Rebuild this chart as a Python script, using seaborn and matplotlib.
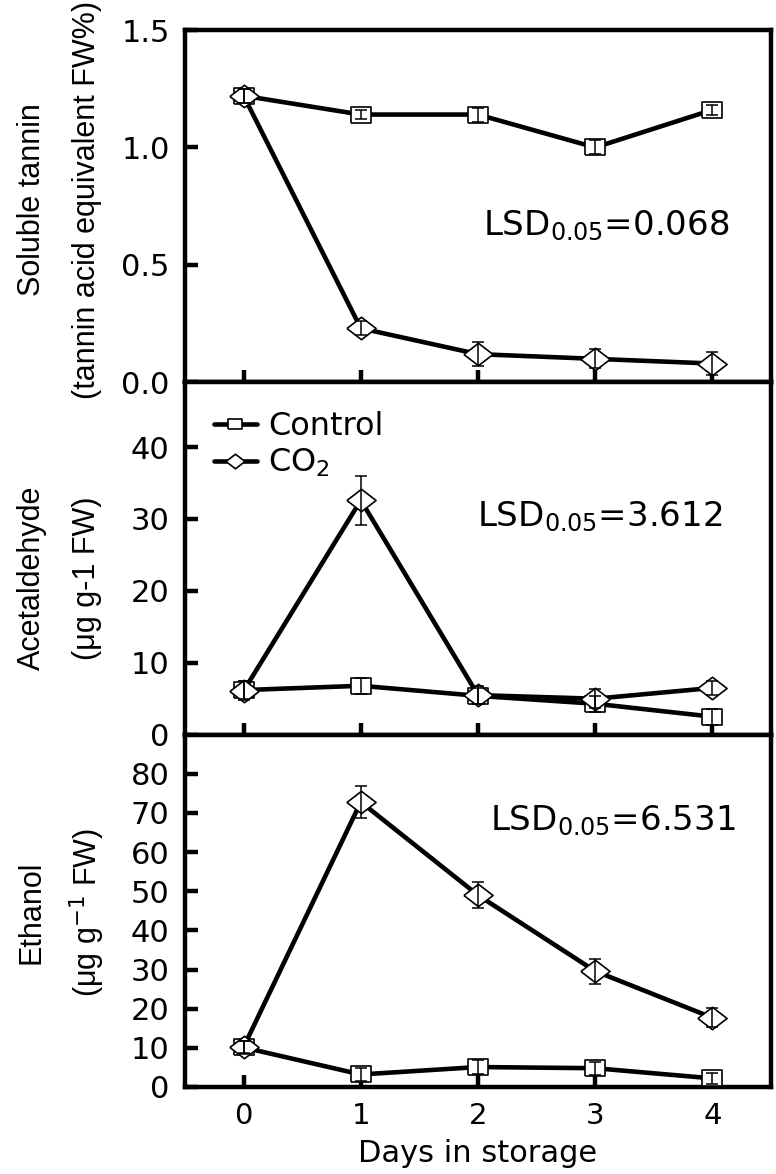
import numpy as np
import pandas as pd
import matplotlib
matplotlib.use("Agg")
import matplotlib.pyplot as plt
import seaborn as sns

# -------------------------------
# Data
# -------------------------------
days = [0, 1, 2, 3, 4]
treatments = ["Control", "CO2"]

tannin_control = [1.22, 1.14, 1.14, 1.00, 1.16]
tannin_control_err = [0.03, 0.02, 0.03, 0.03, 0.02]
tannin_co2 = [1.22, 0.23, 0.12, 0.10, 0.08]
tannin_co2_err = [0.03, 0.03, 0.05, 0.04, 0.05]

acet_control = [6.2, 6.8, 5.4, 4.3, 2.5]
acet_control_err = [1.3, 1.1, 1.1, 1.1, 1.1]
acet_co2 = [6.1, 32.6, 5.5, 5.0, 6.5]
acet_co2_err = [1.3, 3.4, 1.2, 1.3, 1.0]

eth_control = [10.1, 3.2, 5.1, 4.8, 2.2]
eth_control_err = [1.6, 1.6, 1.7, 1.7, 1.4]
eth_co2 = [10.2, 72.8, 49.0, 29.6, 17.7]
eth_co2_err = [1.6, 4.2, 3.3, 3.2, 2.4]

ylabel_top = ["Soluble tannin", "Acetaldehyde", "Ethanol"]
ylabel_bottom = ["(tannin acid equivalent FW%)", "(\u03bcg g-1 FW)",
                 "(\u03bcg g$^{-1}$ FW)"]
lsd_texts = ["LSD$_{0.05}$=0.068", "LSD$_{0.05}$=3.612", "LSD$_{0.05}$=6.531"]
ylims = [(0, 1.5), (0, 49), (0, 90)]
yticks = [[0.0, 0.5, 1.0, 1.5], [0, 10, 20, 30, 40], [0, 10, 20, 30, 40, 50, 60, 70, 80]]
yticklabels = [["0.0", "0.5", "1.0", "1.5"],
               ["0", "10", "20", "30", "40"],
               ["0", "10", "20", "30", "40", "50", "60", "70", "80"]]

panels = [
    (tannin_control, tannin_control_err, tannin_co2, tannin_co2_err),
    (acet_control, acet_control_err, acet_co2, acet_co2_err),
    (eth_control, eth_control_err, eth_co2, eth_co2_err),
]

# -------------------------------
# Style
# -------------------------------
sns.set_style("ticks")
plt.rcParams['font.family'] = ['DejaVu Sans']
plt.rcParams['mathtext.fontset'] = 'dejavusans'
for key in ['text.color', 'axes.labelcolor', 'xtick.color', 'ytick.color',
            'axes.edgecolor']:
    plt.rcParams[key] = 'black'

# wide markers (the source picture is stretched sideways)
square = [(-1.24, -1), (1.24, -1), (1.24, 1), (-1.24, 1), (-1.24, -1)]
diamond = [(-1.3, 0), (0, 1), (1.3, 0), (0, -1), (-1.3, 0)]
markers = {"Control": (square, 15), "CO2": (diamond, 21)}

W, H = 776, 1174
fig, axes = plt.subplots(3, 1, figsize=(W / 100, H / 100), dpi=100, sharex=True)
fig.subplots_adjust(left=185 / W, right=771 / W, top=1 - 30 / H,
                    bottom=1 - 1087 / H, hspace=0)

label_center_y = [200, 578, 912]   # pixel rows of the y-label centres
lsd_pos = [(2.04, 0.625), (1.99, 29.0), (2.1, 65.6)]

for i, ax in enumerate(axes):
    ctrl, ctrl_err, co2, co2_err = panels[i]
    df = pd.DataFrame({
        "day": days * 2,
        "value": ctrl + co2,
        "err": ctrl_err + co2_err,
        "treatment": ["Control"] * 5 + ["CO2"] * 5,
    })
    for t in treatments:
        sub = df[df["treatment"] == t]
        mk, ms = markers[t]
        sns.lineplot(data=sub, x="day", y="value", ax=ax, color="black",
                     linewidth=3.3, marker=mk, markersize=ms,
                     markerfacecolor="white", markeredgecolor="black",
                     markeredgewidth=1.2, label=("CO$_2$" if t == "CO2" else t),
                     legend=False, zorder=3)
        ax.errorbar(sub["day"], sub["value"], yerr=sub["err"], fmt="none",
                    ecolor="black", elinewidth=1.1, capsize=4, capthick=1.1,
                    zorder=4)

    ax.set_xlim(-0.5, 4.5)
    ax.set_ylim(*ylims[i])
    ax.set_yticks(yticks[i])
    ax.set_yticklabels(yticklabels[i])
    ax.set_xticks(days)
    ax.set_xlabel("")
    ax.set_ylabel("")
    for sp in ax.spines.values():
        sp.set_visible(True)
        sp.set_linewidth(3.2)
        sp.set_color("black")
    ax.tick_params(axis="both", direction="in", length=9, width=3.2,
                   labelsize=22, pad=11)
    ax.tick_params(axis="x", labelsize=21)
    yc = 1 - label_center_y[i] / H
    fig.text(32 / W, yc, ylabel_top[i], rotation=90, ha="center", va="center",
             fontsize=22, family="Liberation Sans")
    fig.text(87 / W, yc, ylabel_bottom[i], rotation=90, ha="center",
             va="center", fontsize=22, family="Liberation Sans")
    ax.text(lsd_pos[i][0], lsd_pos[i][1], lsd_texts[i], fontsize=24.5,
            ha="left", va="baseline")

axes[2].set_xticklabels([str(d) for d in days])
axes[2].set_xlabel("Days in storage", fontsize=22, labelpad=6)

leg = axes[1].legend(loc="upper left", frameon=False, fontsize=23,
                     handlelength=1.35, handletextpad=0.35, markerscale=0.65,
                     borderaxespad=0.5, borderpad=0.4, labelspacing=0.15)

plt.savefig("out.png", dpi=100)
